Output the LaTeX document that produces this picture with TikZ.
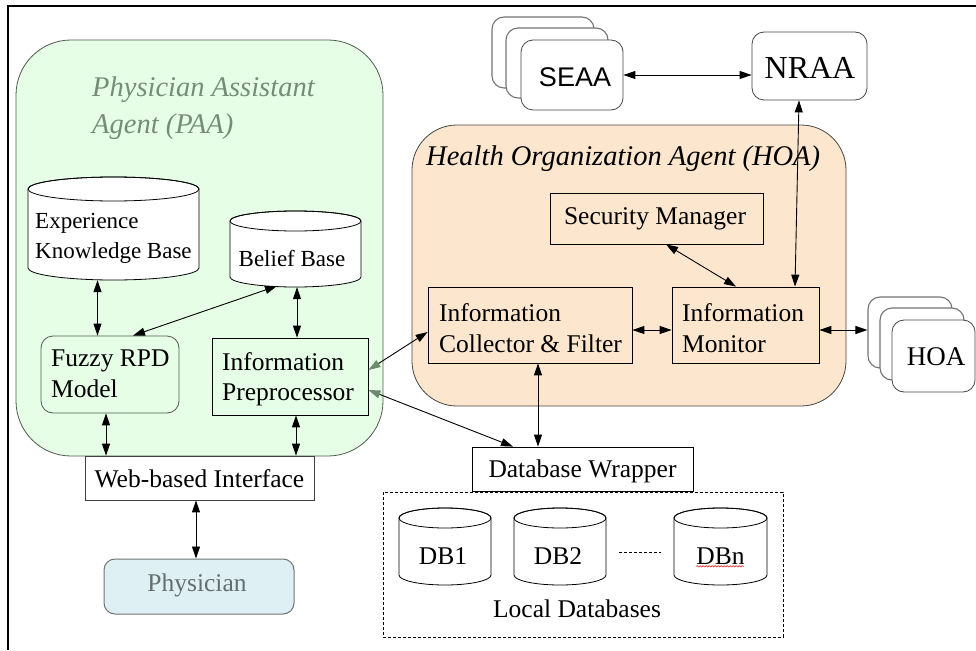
\documentclass[tikz,border=0pt]{standalone}
\usepackage{fontspec}
\setmainfont{Liberation Serif}
\newfontfamily\arialfont{Liberation Sans}
\usetikzlibrary{arrows.meta,calc,decorations.pathmorphing}

\definecolor{paafill}{RGB}{230,253,230}
\definecolor{paaline}{RGB}{80,90,80}
\definecolor{paatitle}{RGB}{118,140,118}
\definecolor{hoafill}{RGB}{253,230,206}
\definecolor{hoaline}{RGB}{70,70,70}
\definecolor{physfill}{RGB}{223,240,244}
\definecolor{physline}{RGB}{110,115,115}
\definecolor{phystext}{RGB}{100,110,110}
\definecolor{tipgray}{RGB}{110,138,110}

% draws a database cylinder and a rectangular node (name) spanning it
\newcommand\dbcyl[6]{%
  \pgfmathsetmacro\cylcx{(#2+#4)/2}%
  \pgfmathsetmacro\cylrx{(#4-#2)/2}%
  \pgfmathsetmacro\cylcy{(#3+#5)/2}%
  \draw[line width=0.8pt, fill=white] (#2,-#3-#6) -- (#2,-#5+#6)
    arc[start angle=180, end angle=360, x radius=\cylrx, y radius=#6]
    -- (#4,-#3-#6)
    arc[start angle=0, end angle=180, x radius=\cylrx, y radius=#6] -- cycle;
  \draw[line width=0.8pt] (\cylcx,-#3-#6) ellipse[x radius=\cylrx, y radius=#6];
  \node[inner sep=0pt, minimum width=#4pt-#2pt, minimum height=#5pt-#3pt] (#1) at (\cylcx,-\cylcy) {};%
}

\begin{document}
\begin{tikzpicture}[x=1pt, y=1pt,
  every node/.style={inner sep=0pt},
  txt/.style={font=\fontsize{25.5}{30.5}\selectfont},
  smalltxt/.style={font=\fontsize{23}{30}\selectfont},
  ttl/.style={font=\fontsize{28.5}{37}\selectfont\itshape},
  plainbox/.style={draw=black, line width=0.8pt},
  rbox/.style={draw=hoaline, line width=0.8pt, rounded corners=12pt, fill=white},
  stackback/.style={draw=black!55, line width=1.1pt, rounded corners=12pt, fill=white},
  bi/.style={{Triangle[length=12pt, width=8pt]}-{Triangle[length=12pt, width=8pt]}, line width=0.9pt},
  bigray/.style={{Triangle[length=12pt, width=8pt, color=tipgray]}-{Triangle[length=12pt, width=8pt]}, line width=0.9pt},
]
\useasboundingbox (0,0) rectangle (976,-650);

% page frame (top and left edges)
\draw[line width=1.3pt] (976,-6) -- (8,-6) -- (8,-650);

% ---------------- Physician Assistant Agent ----------------
\node[draw=paaline, line width=0.8pt, fill=paafill, rounded corners=55pt,
      minimum width=367pt, minimum height=416pt] (paa) at (199.5,-248) {};
\node[ttl, text=paatitle, anchor=west, align=left] (paatitle) at (92,-108.5)
  {Physician Assistant\\Agent (PAA)};

\dbcyl{ekb}{28}{177}{199}{280}{12}
\node[smalltxt, anchor=west, align=left] (ekbtext) at (35,-238) {Experience\\Knowledge Base};

\dbcyl{belief}{230}{211}{361}{287}{10}
\node[smalltxt] (belieftext) at (292,-259) {Belief Base};

\node[draw=paaline, line width=0.8pt, rounded corners=12pt, fill=paafill,
      minimum width=138pt, minimum height=77pt] (fuzzy) at (110,-374.5) {};
\node[txt, anchor=west, align=left] (fuzzytext) at (51,-374) {Fuzzy RPD\\Model};

\node[plainbox, fill=paafill, minimum width=156pt, minimum height=77pt] (infopre) at (290,-376.5) {};
\node[txt, anchor=west, align=left] (infopretext) at (222,-379) {Information\\Preprocessor};

\node[draw=black!75, line width=0.8pt, fill=white, minimum width=229pt, minimum height=44pt] (web) at (199.5,-478) {};
\node[txt] (webtext) at (199.5,-479) {Web-based Interface};

\node[draw=physline, line width=1pt, fill=physfill, rounded corners=11pt,
      minimum width=190pt, minimum height=55pt] (phys) at (199,-586.5) {};
\node[txt, text=phystext] (phystext) at (197,-585) {Physician};

% ---------------- Health Organization Agent ----------------
\node[draw=hoaline, line width=0.8pt, fill=hoafill, rounded corners=45pt,
      minimum width=434pt, minimum height=281pt] (hoa) at (629,-265.5) {};
\node[ttl, anchor=west] (hoatitle) at (426,-159) {Health Organization Agent (HOA)};

\node[plainbox, fill=hoafill, minimum width=213pt, minimum height=51pt] (sm) at (656.5,-218.5) {};
\node[txt] (smtext) at (655,-218.5) {Security Manager};

\node[plainbox, fill=hoafill, minimum width=204pt, minimum height=76pt] (icf) at (530,-325) {};
\node[txt, anchor=west, align=left] (icftext) at (439,-328) {Information\\Collector \& Filter};

\node[plainbox, fill=hoafill, minimum width=147pt, minimum height=76pt] (im) at (745.5,-325) {};
\node[txt, anchor=west, align=left] (imtext) at (682,-328) {Information\\Monitor};

% ---------------- external agents ----------------
\node[stackback, minimum width=102pt, minimum height=71pt] (seaac) at (543,-52.5) {};
\node[stackback, minimum width=102pt, minimum height=70pt] (seaab) at (557,-63) {};
\node[rbox, minimum width=102pt, minimum height=70pt] (seaa) at (572,-75) {};
\node[font=\arialfont\fontsize{27}{30}\selectfont] (seaatext) at (575,-77) {SEAA};

\node[rbox, minimum width=115pt, minimum height=68pt] (nraa) at (809.5,-66) {};
\node[font=\fontsize{32}{36}\selectfont] (nraatext) at (810,-68) {NRAA};

\node[stackback, minimum width=84pt, minimum height=71pt] (hoac) at (910,-332.5) {};
\node[stackback, minimum width=84pt, minimum height=72pt] (hoab) at (922,-344) {};
\node[rbox, minimum width=83pt, minimum height=72pt] (hoaf) at (933.5,-356) {};
\node[font=\fontsize{27}{30}\selectfont] (hoaftext) at (936,-357) {HOA};

% ---------------- databases ----------------
\node[draw=black, line width=0.8pt, dash pattern=on 3pt off 2pt,
      minimum width=400pt, minimum height=145pt] (local) at (583,-564.5) {};
\node[txt] (localtext) at (577,-609) {Local Databases};

\node[plainbox, fill=white, minimum width=221pt, minimum height=44pt] (dw) at (582.5,-469) {};
\node[txt] (dwtext) at (582.5,-471) {Database Wrapper};

\dbcyl{db1}{399}{508}{491}{585}{10}
\node[txt] (db1text) at (443,-556) {DB1};
\dbcyl{db2}{514}{508}{606}{585}{10}
\node[txt] (db2text) at (558,-556) {DB2};
\dbcyl{dbn}{674}{508}{767}{585}{10}
\node[txt] (dbntext) at (720.5,-556) {DBn};
\draw[red!85!black, line width=0.5pt, decorate,
      decoration={snake, amplitude=0.7pt, segment length=3pt}]
  (dbntext.base west) ++(0,-2) -- ++(48,0);
\draw[line width=0.8pt, dash pattern=on 3pt off 2pt] (db2.east |- 0,-552) ++(13,0) -- ++(42,0);

% ---------------- connectors ----------------
\draw[bi] (97.5,0 |- ekb.south) -- (97.5,0 |- fuzzy.north);
\draw[bi] (277,-286) -- (133,0 |- fuzzy.north);
\draw[bi] (297,0 |- belief.south) -- (297,0 |- infopre.north);
\draw[bi] (106,0 |- fuzzy.south) -- (106,0 |- web.north);
\draw[bi] (296,0 |- infopre.south) -- (296,0 |- web.north);
\draw[bi] (196,0 |- web.south) -- (196,0 |- phys.north);

\draw[bigray] (infopre.east |- 0,-370) -- (icf.west |- 0,-332);
\draw[bigray] (infopre.east |- 0,-390) -- (513,0 |- dw.north);

\draw[bi] (538,0 |- icf.south) -- (538,0 |- dw.north);
\draw[bi] (666,0 |- sm.south) -- (736,0 |- im.north);
\draw[bi] (799,0 |- nraa.south) -- (795,0 |- im.north);
\draw[bi] (icf.east |- 0,-330) -- (im.west |- 0,-330);
\draw[bi] (im.east |- 0,-330) -- (hoac.west |- 0,-330);
\draw[bi] (seaa.east |- 0,-75) -- (nraa.west |- 0,-75);
\end{tikzpicture}
\end{document}
